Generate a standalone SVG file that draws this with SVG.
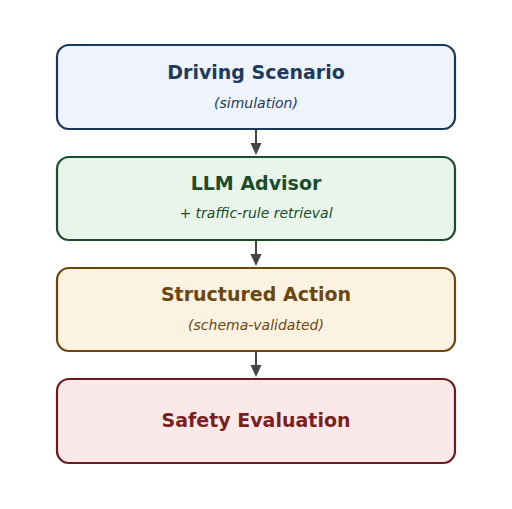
<svg xmlns="http://www.w3.org/2000/svg" width="512" height="509" viewBox="0 0 512 509">
<style>
.box{stroke-width:2.2}
.t{font-family:"DejaVu Sans",sans-serif;font-size:19px;font-weight:bold;text-anchor:middle}
.s{font-family:"DejaVu Sans",sans-serif;font-size:14px;font-style:italic;text-anchor:middle}
.c{stroke:#444;stroke-width:2;fill:none}
.h{fill:#444}
</style>
<rect width="512" height="509" fill="#fff"/>
<g id="n1">
<rect class="box" x="57" y="45" width="398" height="84" rx="12" fill="#EEF3FC" stroke="#1B365D"/>
<text class="t" x="256" y="79" fill="#1F3A5F">Driving Scenario</text>
<text class="s" x="256" y="107.5" fill="#1F3A5F">(simulation)</text>
</g>
<g id="n2">
<rect class="box" x="57" y="157" width="398" height="83" rx="12" fill="#E9F5EA" stroke="#1B4D2A"/>
<text class="t" x="256" y="190" fill="#1B4D2A">LLM Advisor</text>
<text class="s" x="256" y="218" fill="#1B4D2A">+ traffic-rule retrieval</text>
</g>
<g id="n3">
<rect class="box" x="57" y="268" width="398" height="83" rx="12" fill="#FCF2E1" stroke="#6B4710"/>
<text class="t" x="256" y="301" fill="#6B4710">Structured Action</text>
<text class="s" x="256" y="330" fill="#6B4710">(schema-validated)</text>
</g>
<g id="n4">
<rect class="box" x="57" y="379" width="398" height="84" rx="12" fill="#FBE9E9" stroke="#6E1B1F"/>
<text class="t" x="256" y="427" fill="#7A1F22">Safety Evaluation</text>
</g>
<g id="connectors">
<path class="c" d="M256,130V145"/>
<path class="c" d="M256,241V256"/>
<path class="c" d="M256,352V367"/>
<path class="h" d="M250.5,143L256,155L261.5,143z"/>
<path class="h" d="M250.5,254L256,266L261.5,254z"/>
<path class="h" d="M250.5,365L256,377L261.5,365z"/>
</g>
</svg>
